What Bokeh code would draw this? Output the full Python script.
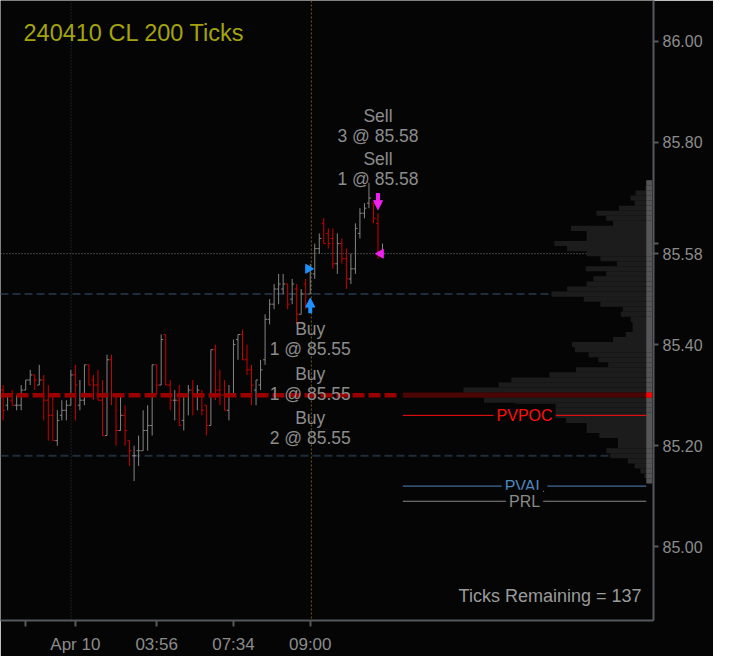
import numpy as np
from bokeh.plotting import figure
from bokeh.models import (ColumnDataSource, Label, Span, FixedTicker, Arrow,
                          NormalHead, Range1d, NumeralTickFormatter)
from bokeh.embed import file_html
from bokeh.resources import INLINE

# ---------------- data ----------------
opens = [85.31, 85.28, 85.29, 85.28, 85.28, 85.31, 85.33, 85.34, 85.32, 85.33,
         85.29, 85.26, 85.21, 85.26, 85.27, 85.28, 85.34, 85.28, 85.29, 85.36,
         85.33, 85.32, 85.29, 85.22, 85.37, 85.30, 85.23, 85.26, 85.21, 85.18,
         85.19, 85.19, 85.23, 85.24, 85.36, 85.32, 85.42, 85.32, 85.29, 85.29,
         85.25, 85.30, 85.31, 85.30, 85.30, 85.28, 85.24, 85.39, 85.31, 85.30,
         85.27, 85.30, 85.41, 85.42, 85.37, 85.35, 85.31, 85.32, 85.37, 85.45,
         85.48, 85.51, 85.51, 85.52, 85.49, 85.51, 85.46, 85.52, 85.50, 85.54,
         85.59, 85.64, 85.62, 85.61, 85.56, 85.60, 85.57, 85.53, 85.55, 85.62,
         85.66, 85.68, 85.68, 85.64, 85.58]
highs = [85.32, 85.30, 85.31, 85.30, 85.32, 85.33, 85.35, 85.34, 85.36, 85.34,
         85.32, 85.30, 85.27, 85.29, 85.29, 85.35, 85.36, 85.33, 85.36, 85.36,
         85.34, 85.35, 85.33, 85.38, 85.38, 85.30, 85.30, 85.28, 85.21, 85.20,
         85.22, 85.27, 85.28, 85.36, 85.36, 85.42, 85.42, 85.33, 85.31, 85.32,
         85.30, 85.32, 85.33, 85.32, 85.31, 85.28, 85.39, 85.40, 85.35, 85.33,
         85.32, 85.41, 85.42, 85.43, 85.40, 85.36, 85.33, 85.37, 85.46, 85.49,
         85.52, 85.54, 85.54, 85.52, 85.53, 85.52, 85.51, 85.53, 85.56, 85.60,
         85.62, 85.65, 85.63, 85.63, 85.62, 85.61, 85.59, 85.58, 85.64, 85.67,
         85.68, 85.72, 85.68, 85.66, 85.60]
lows = [85.25, 85.27, 85.28, 85.27, 85.27, 85.31, 85.32, 85.31, 85.32, 85.25,
        85.21, 85.21, 85.20, 85.25, 85.25, 85.28, 85.25, 85.27, 85.28, 85.32,
        85.29, 85.29, 85.22, 85.22, 85.28, 85.20, 85.23, 85.20, 85.16, 85.13,
        85.16, 85.19, 85.19, 85.22, 85.30, 85.32, 85.32, 85.27, 85.25, 85.24,
        85.23, 85.26, 85.26, 85.27, 85.26, 85.22, 85.24, 85.29, 85.28, 85.27,
        85.25, 85.30, 85.37, 85.37, 85.34, 85.28, 85.28, 85.31, 85.36, 85.44,
        85.47, 85.48, 85.50, 85.47, 85.48, 85.44, 85.46, 85.47, 85.50, 85.53,
        85.58, 85.60, 85.59, 85.55, 85.54, 85.56, 85.51, 85.52, 85.54, 85.61,
        85.65, 85.67, 85.64, 85.57, 85.58]
closes = [85.27, 85.30, 85.28, 85.28, 85.31, 85.33, 85.34, 85.33, 85.33, 85.29,
          85.26, 85.21, 85.25, 85.27, 85.28, 85.34, 85.32, 85.29, 85.36, 85.32,
          85.32, 85.29, 85.22, 85.37, 85.30, 85.23, 85.26, 85.23, 85.19, 85.18,
          85.19, 85.23, 85.24, 85.36, 85.32, 85.41, 85.32, 85.29, 85.29, 85.24,
          85.30, 85.31, 85.30, 85.31, 85.27, 85.24, 85.39, 85.31, 85.30, 85.27,
          85.30, 85.40, 85.42, 85.37, 85.35, 85.32, 85.33, 85.35, 85.45, 85.48,
          85.51, 85.52, 85.52, 85.48, 85.52, 85.46, 85.50, 85.48, 85.55, 85.59,
          85.61, 85.60, 85.60, 85.56, 85.60, 85.57, 85.53, 85.55, 85.63, 85.66,
          85.67, 85.69, 85.65, 85.58, 85.58]

x_tick_pos = [5, 16, 34, 51, 68]
x_tick_labels = ["", "Apr 10", "03:56", "07:34", "09:00"]
day_break_x = 15.05
session_open_x = 68.25
y_ticks = [85.0, 85.2, 85.4, 85.6, 85.8, 86.0]

profile_prices = [85.72, 85.71, 85.70, 85.69, 85.68, 85.67, 85.66, 85.65, 85.64, 85.63,
                  85.62, 85.61, 85.60, 85.59, 85.58, 85.57, 85.56, 85.55, 85.54, 85.53,
                  85.52, 85.51, 85.50, 85.49, 85.48, 85.47, 85.46, 85.45, 85.44, 85.43,
                  85.42, 85.41, 85.40, 85.39, 85.38, 85.37, 85.36, 85.35, 85.34, 85.33,
                  85.32, 85.31, 85.30, 85.29, 85.28, 85.27, 85.26, 85.25, 85.24, 85.23,
                  85.22, 85.21, 85.20, 85.19, 85.18, 85.17, 85.16, 85.15, 85.14, 85.13]
profile_volume = [5, 7, 17, 22, 18, 34, 57, 47, 40, 83,
                  67, 67, 100, 87, 67, 53, 36, 68, 47, 60,
                  67, 87, 103, 70, 53, 30, 32, 22, 20, 20,
                  27, 40, 82, 79, 65, 55, 45, 78, 105, 144,
                  157, 193, 255, 172, 140, 120, 100, 88, 67, 67,
                  54, 35, 35, 47, 43, 25, 18, 12, 8, 3]
poc_price = 85.30
va_high = 85.50
va_low = 85.18
last_price = 85.58
ref_levels = [85.26, 85.12, 85.09]
ref_names = ["PVPOC", "PVAL", "PRL"]
ref_colors = ["#ff1010", "#4f86bf", "#8a8a8a"]

trade_bar = [68, 68, 68, 83, 83]
trade_side = ["Buy", "Buy", "Buy", "Sell", "Sell"]
trade_qty = [1, 1, 2, 1, 3]
trade_price = [85.55, 85.55, 85.55, 85.58, 85.58]

title_text = "240410 CL 200 Ticks"
ticks_remaining = 137

# ---------------- style ----------------
FONT = "Liberation Sans"
BG = "#050505"
UP = "#858585"
DOWN = "#cc0000"
AXIS = "#55585c"
LABEL = "#8c8c8c"
BLUE = "#1e90ff"
MAGENTA = "#f020f0"
X0, X1 = -0.58, 144.0
Y0, Y1 = 84.854, 86.081
PROFILE_RIGHT = 143.7
PROFILE_W = 55.2
STRIP_W = 1.3
REF_LEFT = 88.5
TICK_W = 0.45

p = figure(width=713, height=656, x_range=Range1d(X0, X1), y_range=Range1d(Y0, Y1),
           y_axis_location="right", toolbar_location=None, output_backend="svg",
           background_fill_color=BG, border_fill_color=BG, outline_line_color=None,
           min_border_left=0, min_border_top=0, min_border_right=60, min_border_bottom=34)
p.grid.visible = False

# underlay reference lines
for loc in (va_high, va_low):
    p.add_layout(Span(location=loc, dimension="width", line_color="#1d2d3c",
                      line_width=2, line_dash="8 4", level="underlay"))
p.add_layout(Span(location=last_price, dimension="width", line_color="#7a7a7a",
                  line_width=1, line_dash="1 2", level="underlay"))
p.add_layout(Span(location=day_break_x, dimension="height", line_color="#3a3a3a",
                  line_width=1, line_dash="1 2", level="underlay"))
p.add_layout(Span(location=session_open_x, dimension="height", line_color="#6e5c17",
                  line_width=1, line_dash="2 2", level="underlay"))

# volume profile
vol = np.array(profile_volume, dtype=float)
prof_left = PROFILE_RIGHT - vol / vol.max() * PROFILE_W
prof_colors = ["#4a0505" if abs(pr - poc_price) < 1e-9 else "#1c1c1c" for pr in profile_prices]
p.hbar(y=profile_prices, left=prof_left, right=PROFILE_RIGHT, height=0.0101,
       fill_color=prof_colors, line_color=None)
strip_colors = ["#ff0000" if abs(pr - poc_price) < 1e-9 else "#555555" for pr in profile_prices]
p.hbar(y=profile_prices, left=PROFILE_RIGHT - STRIP_W, right=PROFILE_RIGHT, height=0.0101,
       fill_color=strip_colors, line_color=None)

# OHLC bars
idx = np.arange(len(opens))
o = np.array(opens); h = np.array(highs); l = np.array(lows); c = np.array(closes)
col = np.where(c >= o, UP, DOWN)
src = ColumnDataSource(dict(x=idx, xl=idx - TICK_W, xr=idx + TICK_W, o=o, h=h, l=l, c=c, col=col))
p.segment(x0="x", y0="l", x1="x", y1="h", line_color="col", line_width=1, source=src)
p.segment(x0="xl", y0="o", x1="x", y1="o", line_color="col", line_width=1, source=src)
p.segment(x0="x", y0="c", x1="xr", y1="c", line_color="col", line_width=1, source=src)

# POC dashed line across the bar area
p.segment(x0=[X0], y0=[poc_price], x1=[REF_LEFT - 0.5], y1=[poc_price],
          line_color="#9a0000", line_width=4.5, line_dash="12 4")

# previous-session reference lines with labels
ref_mid = (REF_LEFT + PROFILE_RIGHT - STRIP_W) / 2
for lvl, name, rc in zip(ref_levels, ref_names, ref_colors):
    p.segment(x0=[REF_LEFT], y0=[lvl], x1=[PROFILE_RIGHT - STRIP_W], y1=[lvl],
              line_color=rc, line_width=1)
    p.add_layout(Label(x=ref_mid, y=lvl, text=name, text_align="center",
                       text_baseline="middle", text_color=rc, text_font=FONT,
                       text_font_size="16px", background_fill_color=BG, padding=3))

# trade markers
buys = [i for i, s in enumerate(trade_side) if s == "Buy"]
sells = [i for i, s in enumerate(trade_side) if s == "Sell"]
bb = trade_bar[buys[0]]
sb = trade_bar[sells[0]]
p.scatter(x=[bb - 0.42], y=[trade_price[buys[0]]], marker="triangle", size=9,
          angle=-np.pi / 2, color=BLUE)
p.scatter(x=[sb + 0.6], y=[trade_price[sells[0]]], marker="triangle", size=9,
          angle=np.pi / 2, color=MAGENTA)
p.add_layout(Arrow(end=NormalHead(size=9, fill_color=BLUE, line_color=BLUE),
                   x_start=bb, y_start=lows[bb] - 0.038, x_end=bb, y_end=lows[bb] - 0.008,
                   line_color=BLUE, line_width=4))
p.add_layout(Arrow(end=NormalHead(size=9, fill_color=MAGENTA, line_color=MAGENTA),
                   x_start=sb, y_start=highs[sb] + 0.04, x_end=sb, y_end=highs[sb] + 0.007,
                   line_color=MAGENTA, line_width=4))

for k, t in enumerate(buys):
    for line, off in ((trade_side[t], -35 - 44.5 * k),
                      (f"{trade_qty[t]} @ {trade_price[t]:.2f}", -55 - 44.5 * k)):
        p.add_layout(Label(x=trade_bar[t], y=lows[trade_bar[t]], y_offset=off, text=line,
                           text_align="center", text_baseline="middle", text_color=LABEL,
                           text_font=FONT, text_font_size="17.5px"))
for k, t in enumerate(sells):
    for line, off in ((trade_side[t], 54 + 43 * k),
                      (f"{trade_qty[t]} @ {trade_price[t]:.2f}", 34 + 43 * k)):
        p.add_layout(Label(x=trade_bar[t], y=highs[trade_bar[t]], y_offset=off, text=line,
                           text_align="center", text_baseline="middle", text_color=LABEL,
                           text_font=FONT, text_font_size="17.5px"))

# title and counters
p.add_layout(Label(x=X0, y=Y1, x_offset=23, y_offset=-32, text=title_text,
                   text_align="left", text_baseline="middle", text_color="#a3a30f",
                   text_font=FONT, text_font_size="23.5px"))
p.add_layout(Label(x=X1, y=Y0, x_offset=-12, y_offset=25,
                   text=f"Ticks Remaining = {ticks_remaining}",
                   text_align="right", text_baseline="middle", text_color="#9a9a9a",
                   text_font=FONT, text_font_size="18px"))

# last price tag on the axis: try an HTML label (drawn above the canvas)
tag = None
full_kw = dict(x=X1, y=last_price, x_offset=8, text=f"{last_price:.2f}",
               text_align="left", text_baseline="middle", text_color="#111111",
               text_font=FONT, text_font_size="17px", background_fill_color="#c8c8c8",
               padding=4)
min_kw = dict(x=X1, y=last_price, x_offset=8, text=f"{last_price:.2f}",
              text_color="#111111", text_font_size="17px",
              background_fill_color="#c8c8c8")
try:
    from bokeh.models import HTMLLabel
    for kw in (full_kw, min_kw):
        try:
            tag = HTMLLabel(**kw)
            break
        except Exception:
            tag = None
except Exception:
    tag = None
if tag is not None:
    p.add_layout(tag)

# axes (last price also marked on the price axis)
yax = p.yaxis[0]
yax.ticker = FixedTicker(ticks=sorted(y_ticks + [last_price]))
yax.formatter = NumeralTickFormatter(format="0.00")
yax.major_label_overrides = {85.6: ""}
xax = p.xaxis[0]
xax.ticker = FixedTicker(ticks=x_tick_pos)
xax.major_label_overrides = {pos: lab for pos, lab in zip(x_tick_pos, x_tick_labels)}
for ax in (xax, yax):
    ax.axis_line_color = AXIS
    ax.axis_line_width = 2
    ax.major_tick_line_color = AXIS
    ax.major_tick_line_width = 2
    ax.major_tick_in = 0
    ax.minor_tick_line_color = None
    ax.major_label_text_color = LABEL
    ax.major_label_text_font = FONT
yax.major_label_text_font_size = "16px"
xax.major_label_text_font_size = "17px"
yax.major_tick_out = 5
yax.major_label_standoff = 4
xax.major_tick_out = 6
xax.major_label_standoff = 8

open("out.html", "w").write(file_html(p, INLINE))
